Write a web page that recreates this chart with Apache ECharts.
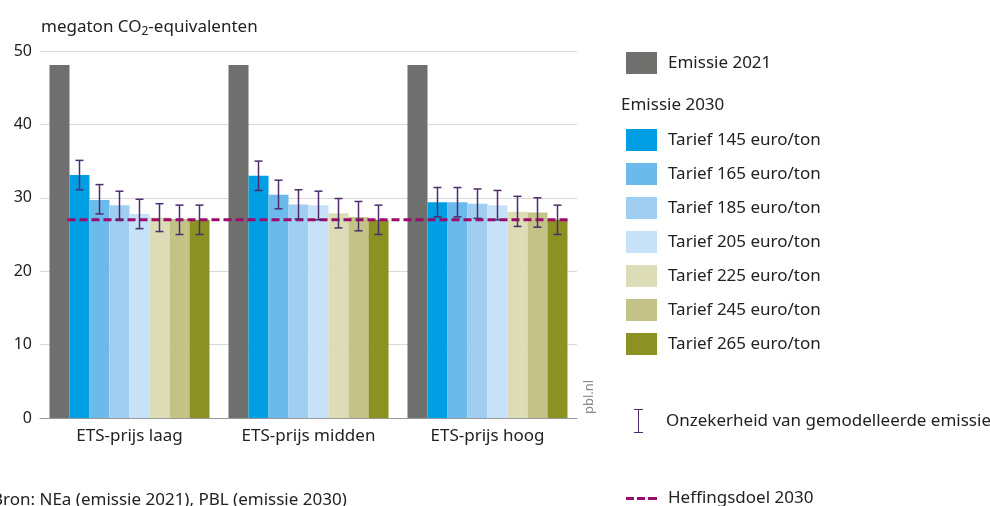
<!DOCTYPE html>
<html>
<head>
<meta charset="utf-8">
<script src="https://cdn.jsdelivr.net/npm/echarts@6/dist/echarts.min.js"></script>
<style>
html,body{margin:0;padding:0;background:#fff;}
#chart{width:990px;height:506px;}
</style>
</head>
<body>
<div id="chart"></div>
<script>
const categories = ['ETS-prijs laag', 'ETS-prijs midden', 'ETS-prijs hoog'];
const yTicks = [0, 10, 20, 30, 40, 50];
const emissie2021 = [48.1, 48.1, 48.1];
const tariffNames = ['Tarief 145 euro/ton','Tarief 165 euro/ton','Tarief 185 euro/ton','Tarief 205 euro/ton','Tarief 225 euro/ton','Tarief 245 euro/ton','Tarief 265 euro/ton'];
const tarief145 = [33.1, 33.0, 29.4];
const tarief165 = [29.7, 30.4, 29.4];
const tarief185 = [29.0, 29.1, 29.2];
const tarief205 = [27.8, 29.0, 29.0];
const tarief225 = [27.3, 27.9, 28.1];
const tarief245 = [27.1, 27.4, 28.0];
const tarief265 = [27.0, 27.0, 27.0];
const low145 = [31.1, 31.0, 27.4], high145 = [35.1, 35.0, 31.4];
const low165 = [27.8, 28.5, 27.4], high165 = [31.8, 32.4, 31.4];
const low185 = [27.0, 27.1, 27.2], high185 = [30.9, 31.1, 31.2];
const low205 = [25.8, 27.0, 27.0], high205 = [29.8, 30.9, 31.0];
const low225 = [25.4, 25.9, 26.1], high225 = [29.2, 29.9, 30.2];
const low245 = [25.0, 25.5, 26.0], high245 = [29.0, 29.5, 30.0];
const low265 = [25.0, 25.0, 25.0], high265 = [29.0, 29.0, 29.0];
const heffingsdoel = 27.0;

const tariffValues = [tarief145, tarief165, tarief185, tarief205, tarief225, tarief245, tarief265];
const lows = [low145, low165, low185, low205, low225, low245, low265];
const highs = [high145, high165, high185, high205, high225, high245, high265];
const colors2030 = ['#009fe3', '#6cb9eb', '#a0cef2', '#c6e1f8', '#dcdcb6', '#c3c387', '#8c9124'];
const grayColor = '#6f6f6e';
const errColor = '#4d2c6e';
const targetColor = '#9c0a6c';
const font = 'Noto Sans';
const FS = 17;
const BAR_W = 20;
const NBARS = 8;

const errName = 'Onzekerheid van gemodelleerde emissie';
const targetName = 'Heffingsdoel 2030';

const errData = [];
for (let t = 0; t < 7; t++) {
  for (let c = 0; c < categories.length; c++) {
    errData.push([c, t + 1, lows[t][c], highs[t][c]]);
  }
}

const series = [{
  name: 'Emissie 2021', type: 'bar', data: emissie2021, barWidth: BAR_W, barGap: '0%',
  itemStyle: { color: grayColor }, emphasis: { disabled: true }
}];
tariffNames.forEach((n, i) => {
  series.push({
    name: n, type: 'bar', data: tariffValues[i], barWidth: BAR_W, barGap: '0%',
    itemStyle: { color: colors2030[i] }, emphasis: { disabled: true }
  });
});
series.push({
  name: targetName, type: 'custom', z: 5,
  data: [[0, heffingsdoel]],
  renderItem: function (params, api) {
    const y = api.coord([0, api.value(1)])[1];
    const x0 = api.coord([0, 0])[0] - (NBARS / 2 - 1) * BAR_W - 2;
    const x1 = api.coord([categories.length - 1, 0])[0] + (NBARS / 2) * BAR_W;
    return { type: 'line', shape: { x1: x0, y1: y, x2: x1, y2: y },
      style: { stroke: targetColor, lineWidth: 3, lineDash: [8, 4] } };
  }
});
series.push({
  name: errName, type: 'custom', z: 6,
  data: errData,
  renderItem: function (params, api) {
    const c = api.value(0), idx = api.value(1);
    const cx = api.coord([c, 0])[0] + (idx - (NBARS - 1) / 2) * BAR_W;
    const yl = api.coord([c, api.value(2)])[1];
    const yh = api.coord([c, api.value(3)])[1];
    const hw = 4;
    const st = { stroke: errColor, lineWidth: 1.5 };
    return { type: 'group', children: [
      { type: 'line', shape: { x1: cx, y1: yh, x2: cx, y2: yl }, style: st },
      { type: 'line', shape: { x1: cx - hw, y1: yh, x2: cx + hw, y2: yh }, style: st },
      { type: 'line', shape: { x1: cx - hw, y1: yl, x2: cx + hw, y2: yl }, style: st }
    ] };
  }
});

const legendText = { fontFamily: font, fontSize: FS, color: '#222', padding: [0, 0, 0, 6] };
const option = {
  animation: false,
  backgroundColor: '#fff',
  textStyle: { fontFamily: font },
  grid: { left: 40, right: 413, top: 51, bottom: 88 },
  xAxis: {
    type: 'category', data: categories,
    axisLine: { show: true, lineStyle: { color: '#999', width: 1 } },
    axisTick: { show: false },
    axisLabel: { fontFamily: font, fontSize: FS, color: '#222', margin: 10 }
  },
  yAxis: {
    type: 'value', min: 0, max: 50, interval: 10,
    axisLine: { show: false }, axisTick: { show: false },
    splitLine: { lineStyle: { color: '#d9d9d9', width: 1 } },
    axisLabel: { fontFamily: font, fontSize: 16, color: '#222', margin: 8,
      formatter: v => yTicks.includes(v) ? String(v) : '' }
  },
  legend: [
    { orient: 'vertical', left: 621, top: 47, itemWidth: 31, itemHeight: 22, itemGap: 12,
      icon: 'rect', selectedMode: false, textStyle: legendText, data: ['Emissie 2021'] },
    { orient: 'vertical', left: 621, top: 124, itemWidth: 31, itemHeight: 22, itemGap: 12,
      icon: 'rect', selectedMode: false, textStyle: legendText, data: tariffNames },
    { orient: 'vertical', left: 629, top: 404, itemWidth: 11, itemHeight: 24, itemGap: 12,
      selectedMode: false, textStyle: Object.assign({}, legendText, { padding: [0, 0, 0, 17] }),
      data: [{ name: errName, icon: 'path://M0,0h9v1h-4v22h4v1h-9v-1h4v-22h-4z',
        itemStyle: { color: errColor } }] },
    { orient: 'vertical', left: 621, top: 485, itemWidth: 31, itemHeight: 3, itemGap: 12,
      selectedMode: false, textStyle: legendText,
      data: [{ name: targetName, icon: 'path://M0,0h8v3h-8zM11,0h8v3h-8zM22,0h9v3h-9z',
        itemStyle: { color: targetColor } }] }
  ],
  graphic: [
    { type: 'text', left: 41, top: 19, style: {
      text: '{a|megaton CO}{s|2}{a|-equivalenten}',
      rich: { a: { fontFamily: font, fontSize: FS, fill: '#222' },
              s: { fontFamily: font, fontSize: 12, fill: '#222', padding: [9, 0, 0, 0] } } } },
    { type: 'text', left: 621, top: 97, style: { text: 'Emissie 2030', fontFamily: font, fontSize: FS, fill: '#222' } },
    { type: 'text', left: -8, top: 492, style: { text: 'Bron: NEa (emissie 2021), PBL (emissie 2030)', fontFamily: font, fontSize: FS, fill: '#222' } },
    { type: 'text', x: 583, y: 414, rotation: Math.PI / 2, style: { text: 'pbl.nl', fontFamily: font, fontSize: 13, fill: '#8a8a8a' } }
  ],
  series: series
};
const chart = echarts.init(document.getElementById('chart'), null, { renderer: 'canvas' });
chart.setOption(option);
</script>
</body>
</html>
